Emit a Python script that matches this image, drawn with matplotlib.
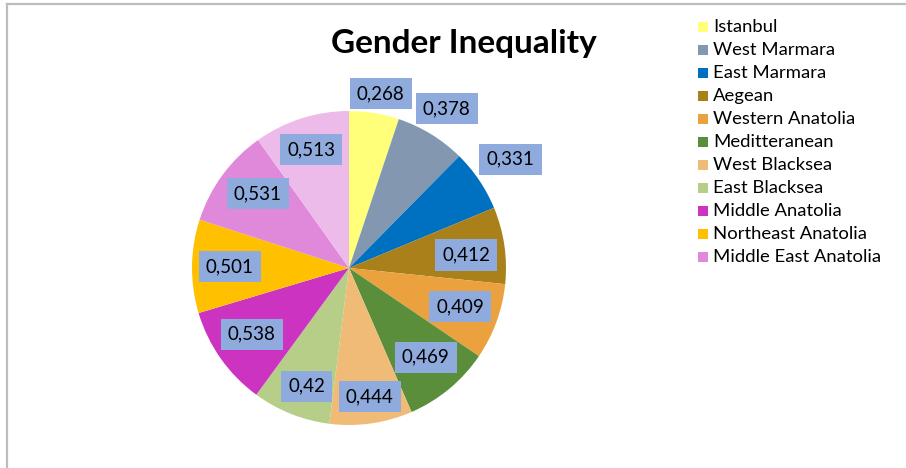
import matplotlib
matplotlib.use("Agg")
import matplotlib.pyplot as plt
import numpy as np
from matplotlib.patches import Rectangle

regions = ["Istanbul", "West Marmara", "East Marmara", "Aegean", "Western Anatolia",
           "Meditteranean", "West Blacksea", "East Blacksea", "Middle Anatolia",
           "Northeast Anatolia", "Middle East Anatolia", ""]
values = [0.268, 0.378, 0.331, 0.412, 0.409, 0.469, 0.444, 0.42, 0.538, 0.501, 0.531, 0.513]
value_labels = ["0,268", "0,378", "0,331", "0,412", "0,409", "0,469", "0,444", "0,42",
                "0,538", "0,501", "0,531", "0,513"]

colors = ["#FFFF7A", "#8497B0", "#0070C0", "#A9801A", "#EBA13E", "#5B8E3A",
          "#F0BB76", "#B7CE89", "#CC33C0", "#FFC000", "#E088DA", "#ECBBEA"]
label_radius = [1.13, 1.19, 1.24, 0.75, 0.75, 0.75, 0.83, 0.80, 0.75, 0.76, 0.75, 0.79]
label_shift = [-1, 0, 0, -2, 1, 1, 1, 2, -1, 0, -3, 0]

plt.rcParams["font.family"] = ["Lato", "DejaVu Sans"]

W, H = 906, 468
fig = plt.figure(figsize=(W / 100, H / 100), dpi=100)

# frame around the chart area (left and top edges visible)
fig.add_artist(plt.Line2D([7 / W, 7 / W], [0, 1 - 4 / H], transform=fig.transFigure,
                          color="#BDBDBD", linewidth=1.6))
fig.add_artist(plt.Line2D([7 / W, 1], [1 - 4 / H, 1 - 4 / H], transform=fig.transFigure,
                          color="#BDBDBD", linewidth=1.6))

cx, cy, r = 349, 268, 157
ax = fig.add_axes([(cx - r) / W, (H - cy - r) / H, 2 * r / W, 2 * r / H])
ax.set_aspect("equal")

wedges, _ = ax.pie(values, colors=colors, startangle=90, counterclock=False,
                   radius=1.0, wedgeprops=dict(linewidth=0))
ax.set_xlim(-1, 1)
ax.set_ylim(-1, 1)

total = sum(values)
start = 90.0
for v, lab, rr, sh in zip(values, value_labels, label_radius, label_shift):
    width = v / total * 360
    mid = np.deg2rad(start - width / 2 + sh)
    start -= width
    ax.text(rr * np.cos(mid), rr * np.sin(mid), lab, ha="center", va="center",
            fontsize=13.5, color="black", clip_on=False,
            bbox=dict(boxstyle="square,pad=0.38", facecolor="#8FAADC",
                      edgecolor="none"))

fig.text(464 / W, 1 - 43 / H, "Gender Inequality", ha="center", va="center",
         fontsize=24, fontweight="bold", color="black")

# legend (first eleven regions)
y0 = 27
for i, (name, col) in enumerate(zip(regions[:11], colors[:11])):
    y = y0 + i * 23.0
    fig.patches.append(Rectangle((698 / W, 1 - (y + 5) / H), 10 / W, 10 / H,
                                 transform=fig.transFigure, facecolor=col,
                                 edgecolor="none"))
    fig.text(713 / W, 1 - y / H, name, ha="left", va="center",
             fontsize=13.3, color="black")

fig.savefig("out.png", dpi=100)
